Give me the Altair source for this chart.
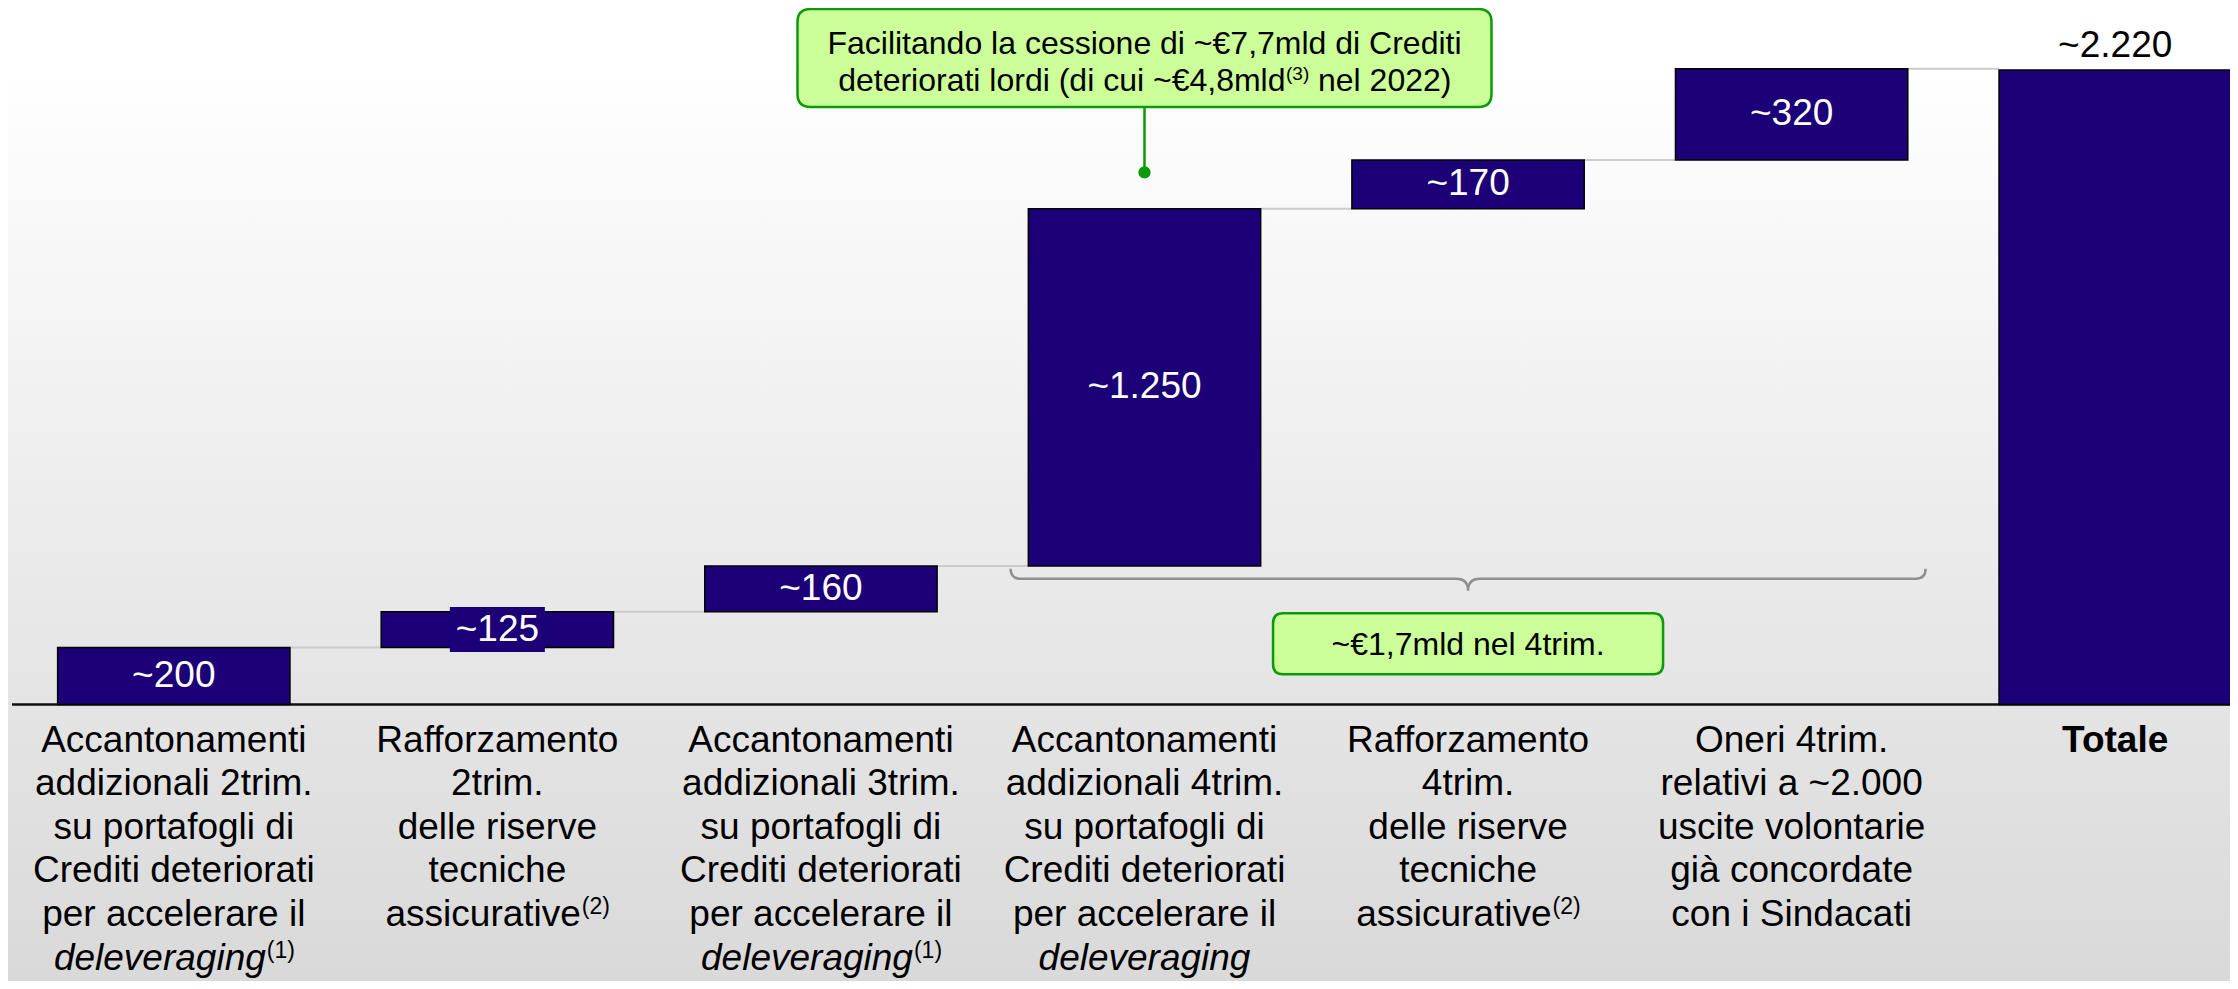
import altair as alt
import pandas as pd

# ------------------------------------------------------------------ data
step_values = [200, 125, 160, 1250, 170, 320]
step_labels = ["~200", "~125", "~160", "~1.250", "~170", "~320"]
total_value = 2220
total_label = "~2.220"

category_lines = [
    ["Accantonamenti", "addizionali 2trim.", "su portafogli di", "Crediti deteriorati", "per accelerare il"],
    ["Rafforzamento", "2trim.", "delle riserve", "tecniche"],
    ["Accantonamenti", "addizionali 3trim.", "su portafogli di", "Crediti deteriorati", "per accelerare il"],
    ["Accantonamenti", "addizionali 4trim.", "su portafogli di", "Crediti deteriorati", "per accelerare il"],
    ["Rafforzamento", "4trim.", "delle riserve", "tecniche"],
    ["Oneri 4trim.", "relativi a ~2.000", "uscite volontarie", "già concordate", "con i Sindacati"],
]
total_category = "Totale"

deleveraging_note_cols = [0, 2]      # italic "deleveraging" + (1)
deleveraging_plain_cols = [3]        # italic "deleveraging" only
assicurative_note_cols = [1, 4]      # "assicurative" + (2)
boxed_label_cols = [1]               # value label drawn on a box

callout_line1 = "Facilitando la cessione di ~€7,7mld di Crediti"
callout_line2_a = "deteriorati lordi (di cui ~€4,8mld"
callout_line2_note = "(3)"
callout_line2_b = "nel 2022)"
callout_q4 = "~€1,7mld nel 4trim."

# annotation anchors (bar index, value level)
callout_anchor = {"idx": 3, "box": 2262, "dot": 1862, "box_bottom": 2090}
brace_anchor = {"idx": 4, "level": 440}
q4_anchor = {"idx": 4, "level": 213}

# ------------------------------------------------------------------ style
W, H = 2222, 973
FONT = "Liberation Sans"
NAVY = "#1b0077"
GREEN_FILL = "#ccff99"
GREEN_LINE = "#0a9a0a"
HALF = 0.359
XS = alt.Scale(domain=[-0.5124, 6.3548], nice=False, zero=False)
YS = alt.Scale(domain=[-967.3, 2437.2], nice=False, zero=False)
LH = 43.6
BASE_DY = 47


def X(f):
    return alt.X(f, type="quantitative", scale=XS, axis=None)


def Y(f):
    return alt.Y(f, type="quantitative", scale=YS, axis=None)


def rounded_box(w, h, r):
    s = w / 2.0
    hw, hh, rr = 1.0, h / 2.0 / s, r / s
    f = lambda v: f"{v:.5f}"
    p = (f"M{f(-hw+rr)},{f(-hh)} L{f(hw-rr)},{f(-hh)} Q{f(hw)},{f(-hh)} {f(hw)},{f(-hh+rr)} "
         f"L{f(hw)},{f(hh-rr)} Q{f(hw)},{f(hh)} {f(hw-rr)},{f(hh)} "
         f"L{f(-hw+rr)},{f(hh)} Q{f(-hw)},{f(hh)} {f(-hw)},{f(hh-rr)} "
         f"L{f(-hw)},{f(-hh+rr)} Q{f(-hw)},{f(-hh)} {f(-hw+rr)},{f(-hh)} Z")
    return p, w * w


def brace_path(w, end_up, tip, r):
    s = w / 2.0
    a, b, c = end_up / s, tip / s, r / s
    f = lambda v: f"{v:.5f}"
    p = (f"M-1,{f(-a)} Q-1,0 {f(-1+c)},0 L{f(-b)},0 Q0,0 0,{f(b)} "
         f"Q0,0 {f(b)},0 L{f(1-c)},0 Q1,0 1,{f(-a)}")
    return p, w * w


# ------------------------------------------------------------------ tables
n = len(step_values)
ends, starts, acc = [], [], 0
for v in step_values:
    starts.append(acc)
    acc += v
    ends.append(acc)

bars = pd.DataFrame({
    "idx": list(range(n)) + [n],
    "start": starts + [0],
    "end": ends + [total_value],
    "label": step_labels + [total_label],
})
bars["x0"] = bars["idx"] - HALF
bars["x1"] = bars["idx"] + HALF
bars["mid"] = (bars["start"] + bars["end"]) / 2

conn = pd.DataFrame({"level": ends, "x0": [i + HALF for i in range(n)],
                     "x1": [i + 1 - HALF for i in range(n)]})

cats = pd.DataFrame({"idx": list(range(n)), "lines": category_lines, "base": 0})
tot_cat = pd.DataFrame({"idx": [n], "text": [total_category], "base": [0]})
delev_note = pd.DataFrame({"idx": deleveraging_note_cols, "base": 0})
delev_plain = pd.DataFrame({"idx": deleveraging_plain_cols, "base": 0})
assic_note = pd.DataFrame({"idx": assicurative_note_cols, "base": 0})
one = pd.DataFrame({"a": [0]})

# ------------------------------------------------------------------ layers
bg = alt.Chart(one).mark_rect(
    color=alt.Gradient(
        gradient="linear", x1=0, x2=0, y1=0, y2=1,
        stops=[alt.GradientStop(color="#ffffff", offset=0),
               alt.GradientStop(color="#ffffff", offset=0.06),
               alt.GradientStop(color="#e4e4e4", offset=0.72),
               alt.GradientStop(color="#d9d9d9", offset=1)])
).encode(x=alt.value(0), x2=alt.value(W), y=alt.value(0), y2=alt.value(H))

connectors = alt.Chart(conn).mark_rule(color="#cccccc", strokeWidth=2).encode(
    x=X("x0"), x2="x1", y=Y("level"))

axis_line = alt.Chart(one).mark_rule(color="#111111", strokeWidth=2.5).encode(
    x=alt.value(4), x2=alt.value(W), y=alt.Y(datum=0, type="quantitative", scale=YS, axis=None))

bar_layer = alt.Chart(bars).mark_rect(fill=NAVY, stroke="#000000", strokeWidth=1.5).encode(
    x=X("x0"), x2="x1", y=Y("start"), y2="end")

box125_path, box125_size = rounded_box(95, 45, 0.01)
box125 = alt.Chart(bars[bars["idx"].isin(boxed_label_cols)]).mark_point(
    shape=box125_path, size=box125_size, filled=True, fill=NAVY, strokeWidth=0, opacity=1
).encode(x=X("idx"), y=Y("mid"))

val_labels = alt.Chart(bars[bars["idx"] < n]).mark_text(
    font=FONT, fontSize=37, color="white", baseline="middle", align="center"
).encode(x=X("idx"), y=Y("mid"), text="label:N")

tot_label = alt.Chart(bars[bars["idx"] == n]).mark_text(
    font=FONT, fontSize=37, color="black", baseline="alphabetic", align="center", dy=-13
).encode(x=X("idx"), y=Y("end"), text="label:N")

cat_text = alt.Chart(cats).mark_text(
    font=FONT, fontSize=37, color="black", baseline="alphabetic", align="center",
    dy=BASE_DY, lineHeight=LH
).encode(x=X("idx"), y=Y("base"), text="lines")

tot_cat_text = alt.Chart(tot_cat).mark_text(
    font=FONT, fontSize=37, fontWeight="bold", color="black", baseline="alphabetic",
    align="center", dy=BASE_DY
).encode(x=X("idx"), y=Y("base"), text="text:N")

delev_word = alt.Chart(delev_note).mark_text(
    font=FONT, fontSize=37, fontStyle="italic", color="black", baseline="alphabetic",
    align="right", dx=92, dy=BASE_DY + 5 * LH, text="deleveraging"
).encode(x=X("idx"), y=Y("base"))
delev_sup = alt.Chart(delev_note).mark_text(
    font=FONT, fontSize=23, color="black", baseline="alphabetic",
    align="left", dx=93, dy=BASE_DY + 5 * LH - 12, text="(1)"
).encode(x=X("idx"), y=Y("base"))
delev_plain_word = alt.Chart(delev_plain).mark_text(
    font=FONT, fontSize=37, fontStyle="italic", color="black", baseline="alphabetic",
    align="center", dy=BASE_DY + 5 * LH, text="deleveraging"
).encode(x=X("idx"), y=Y("base"))
assic_word = alt.Chart(assic_note).mark_text(
    font=FONT, fontSize=37, color="black", baseline="alphabetic",
    align="right", dx=83.5, dy=BASE_DY + 4 * LH, text="assicurative"
).encode(x=X("idx"), y=Y("base"))
assic_sup = alt.Chart(assic_note).mark_text(
    font=FONT, fontSize=23, color="black", baseline="alphabetic",
    align="left", dx=84.5, dy=BASE_DY + 4 * LH - 12, text="(2)"
).encode(x=X("idx"), y=Y("base"))

# brace under the 4th-quarter bars
bp, bsize = brace_path(915, 10, 12, 10)
brace = alt.Chart(pd.DataFrame([brace_anchor])).mark_point(
    shape=bp, size=bsize, filled=False, stroke="#8f8f8f", strokeWidth=2.5, opacity=1
).encode(x=X("idx"), y=Y("level"))

q4_path, q4_size = rounded_box(390, 61, 10)
q4_box = alt.Chart(pd.DataFrame([q4_anchor])).mark_point(
    shape=q4_path, size=q4_size, filled=True, fill=GREEN_FILL, stroke=GREEN_LINE,
    strokeWidth=2.5, opacity=1
).encode(x=X("idx"), y=Y("level"))
q4_text = alt.Chart(pd.DataFrame([q4_anchor])).mark_text(
    font=FONT, fontSize=32, color="black", baseline="alphabetic", align="center",
    dy=11.5, text=callout_q4
).encode(x=X("idx"), y=Y("level"))

# callout above the 4th bar
ca = pd.DataFrame([callout_anchor])
c_rule = alt.Chart(ca).mark_rule(color=GREEN_LINE, strokeWidth=2.5).encode(
    x=X("idx"), y=Y("dot"), y2="box_bottom")
c_dot = alt.Chart(ca).mark_point(shape="circle", filled=True, color=GREEN_LINE,
                                  size=150, opacity=1).encode(x=X("idx"), y=Y("dot"))
c_path, c_size = rounded_box(694, 98, 13)
c_box = alt.Chart(ca).mark_point(
    shape=c_path, size=c_size, filled=True, fill=GREEN_FILL, stroke=GREEN_LINE,
    strokeWidth=2.5, opacity=1
).encode(x=X("idx"), y=Y("box"))
c_t1 = alt.Chart(ca).mark_text(font=FONT, fontSize=32, color="black", baseline="alphabetic",
                               align="center", dy=-4, text=callout_line1
                               ).encode(x=X("idx"), y=Y("box"))
c_t2a = alt.Chart(ca).mark_text(font=FONT, fontSize=32, color="black", baseline="alphabetic",
                                align="right", dx=141, dy=32.5, text=callout_line2_a
                                ).encode(x=X("idx"), y=Y("box"))
c_t2n = alt.Chart(ca).mark_text(font=FONT, fontSize=19, color="black", baseline="alphabetic",
                                align="left", dx=141.5, dy=22, text=callout_line2_note
                                ).encode(x=X("idx"), y=Y("box"))
c_t2b = alt.Chart(ca).mark_text(font=FONT, fontSize=32, color="black", baseline="alphabetic",
                                align="left", dx=173.5, dy=32.5, text=callout_line2_b
                                ).encode(x=X("idx"), y=Y("box"))

chart = alt.layer(
    bg, connectors, axis_line, bar_layer, box125, val_labels, tot_label,
    cat_text, tot_cat_text, delev_word, delev_sup, delev_plain_word, assic_word, assic_sup,
    brace, q4_box, q4_text, c_rule, c_dot, c_box, c_t1, c_t2a, c_t2n, c_t2b
).properties(
    width=W, height=H, padding=0,
    autosize=alt.AutoSizeParams(type="none"),
    background="white",
).configure_view(stroke=None)

chart.save("out.html", embed_options={"renderer": "svg", "actions": False})
